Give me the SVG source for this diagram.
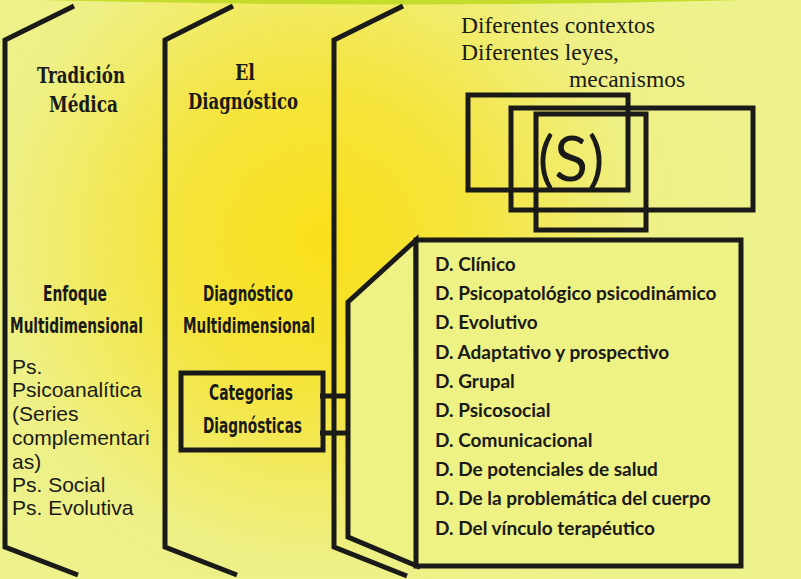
<svg xmlns="http://www.w3.org/2000/svg" width="801" height="579" viewBox="0 0 801 579">
<defs>
<radialGradient id="bg" cx="320" cy="240" r="430" gradientUnits="userSpaceOnUse">
<stop offset="0" stop-color="#f9e01a"/>
<stop offset="0.35" stop-color="#f5e43c"/>
<stop offset="0.75" stop-color="#eef086"/>
<stop offset="1" stop-color="#eef28c"/>
</radialGradient>
<style>
.ln{fill:none;stroke:#1a1a18;stroke-width:5;stroke-linejoin:miter;stroke-linecap:butt}
.box{fill:#eef285;stroke:#1a1a18;stroke-width:5}
.sq{fill:none;stroke:#1a1a18;stroke-width:5}
.slab{font-family:"DejaVu Serif Condensed","DejaVu Serif",serif;font-weight:bold;font-stretch:condensed;font-size:22px;fill:#1a1a18}
.cond{font-family:"DejaVu Sans Condensed","DejaVu Sans",sans-serif;font-weight:bold;font-stretch:condensed;font-size:21px;fill:#1a1a18}
.ps{font-family:"Liberation Sans",Arial,sans-serif;font-size:21px;fill:#1a1a18}
.tm{font-family:"Liberation Serif","Times New Roman",serif;font-size:23.5px;fill:#1a1a18}
.li{font-family:Lato,"Open Sans",sans-serif;font-weight:bold;font-size:19px;fill:#1a1a18}
</style>
</defs>
<rect width="801" height="579" fill="url(#bg)"/>
<path d="M40,0 Q400,9 745,0 Z" fill="#c4dc2c"/>

<g id="col1">
<polyline class="ln" points="74,6 5,40 5,547 78,575"/>
<text class="slab" x="37" y="83" textLength="88" lengthAdjust="spacingAndGlyphs">Tradición</text>
<text class="slab" x="49" y="112" textLength="69" lengthAdjust="spacingAndGlyphs">Médica</text>
<text class="cond" x="43" y="301" textLength="64" lengthAdjust="spacingAndGlyphs">Enfoque</text>
<text class="cond" x="10" y="333" textLength="133" lengthAdjust="spacingAndGlyphs">Multidimensional</text>
<text class="ps" x="12" y="374">Ps.</text>
<text class="ps" x="12" y="397">Psicoanalítica</text>
<text class="ps" x="12" y="421">(Series</text>
<text class="ps" x="12" y="445">complementari</text>
<text class="ps" x="12" y="469">as)</text>
<text class="ps" x="12" y="492">Ps. Social</text>
<text class="ps" x="12" y="515">Ps. Evolutiva</text>
</g>

<g id="col2">
<polyline class="ln" points="233,6 165,40 165,547 237,575"/>
<text class="slab" x="235" y="80" textLength="20" lengthAdjust="spacingAndGlyphs">El</text>
<text class="slab" x="188" y="109" textLength="110" lengthAdjust="spacingAndGlyphs">Diagnóstico</text>
<text class="cond" x="203" y="301" textLength="90" lengthAdjust="spacingAndGlyphs">Diagnóstico</text>
<text class="cond" x="183" y="333" textLength="132" lengthAdjust="spacingAndGlyphs">Multidimensional</text>
</g>

<g id="categorias">
<rect class="sq" x="181" y="373" width="142" height="77" stroke-width="4.5"/>
<text class="cond" x="209" y="400" textLength="84" lengthAdjust="spacingAndGlyphs">Categorias</text>
<text class="cond" x="203" y="433" textLength="99" lengthAdjust="spacingAndGlyphs">Diagnósticas</text>
</g>

<g id="connectors">
<path class="ln" d="M320,396 H379 V433 H320" stroke-width="4.5"/>
</g>

<g id="col3">
<polyline class="ln" points="403,6 334,40 334,547 407,576"/>
</g>

<g id="contextos">
<text class="tm" x="461" y="33">Diferentes contextos</text>
<text class="tm" x="461" y="60">Diferentes leyes,</text>
<text class="tm" x="569" y="87">mecanismos</text>
</g>

<g id="s-node">
<rect class="sq" x="468" y="95" width="160" height="95"/>
<rect class="sq" x="511" y="108" width="242" height="102"/>
<rect class="sq" x="536" y="114" width="110" height="116"/>
<text x="571" y="181" font-family="Lato,'Open Sans',sans-serif" font-size="62" fill="#1a1a18" text-anchor="middle">(S)</text>
</g>

<g id="lista">
<polygon class="box" points="416,240 348,302 348,537 417,566"/>
<rect class="box" x="416" y="240" width="325" height="326"/>
<text class="li" x="435" y="271">D. Clínico</text>
<text class="li" x="435" y="300">D. Psicopatológico psicodinámico</text>
<text class="li" x="435" y="329">D. Evolutivo</text>
<text class="li" x="435" y="359">D. Adaptativo y prospectivo</text>
<text class="li" x="435" y="388">D. Grupal</text>
<text class="li" x="435" y="417">D. Psicosocial</text>
<text class="li" x="435" y="447">D. Comunicacional</text>
<text class="li" x="435" y="476">D. De potenciales de salud</text>
<text class="li" x="435" y="505">D. De la problemática del cuerpo</text>
<text class="li" x="435" y="535">D. Del vínculo terapéutico</text>
</g>
</svg>
